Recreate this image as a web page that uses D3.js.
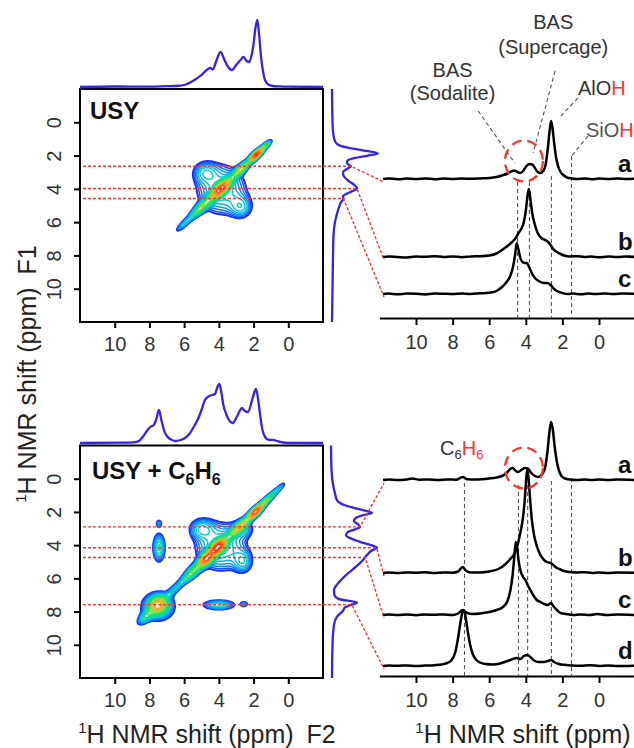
<!DOCTYPE html>
<html>
<head>
<meta charset="utf-8">
<script src="https://cdn.jsdelivr.net/npm/d3@7"></script>
<style>
  body { margin: 0; background: #fff; }
  svg { display: block; font-family: "Liberation Sans", Arial, sans-serif; }
</style>
</head>
<body>
<svg id="chart" width="634" height="748"></svg>
<script>
// ---------------- data (ppm, intensity) ----------------
const ppmTicks = [10, 8, 6, 4, 2, 0];

// F2 projections drawn above the 2D boxes
const projF2Usy = [[12,0],[10,0.5],[8,0.3],[7,0.8],[6.5,1],[6,2],[5.5,6],[5.0,12],[4.7,17],[4.5,19],[4.35,17.5],
  [4.15,26],[3.9,35],[3.7,28],[3.5,21],[3.25,17],[3.0,22],[2.75,27],[2.58,30],[2.4,26],[2.25,25],[2.1,33],[2.0,43],
  [1.9,58],[1.78,67],[1.68,52],[1.58,32],[1.47,17],[1.34,7],[1.15,2.5],[0.9,1],[0.5,0.6],[0,0.3],[-2,0]];
const projF2C6 = [[12,0],[9.5,0.3],[8.9,0.6],[8.6,2],[8.35,7],[8.15,12],[7.95,16],[7.75,18],[7.6,24],[7.45,33],
  [7.3,22],[7.15,12],[6.95,6],[6.7,3],[6.5,2],[6.2,3],[6.0,4.5],[5.7,9],[5.45,16],[5.2,24],[5.0,33],[4.8,43],[4.55,47],
  [4.4,48],[4.22,49],[4.1,55],[3.97,59],[3.85,50],[3.74,38],[3.6,30],[3.45,24],[3.2,20],[2.97,26],[2.8,32],[2.68,35],
  [2.5,32],[2.32,31],[2.1,42],[1.95,51],[1.86,54],[1.75,45],[1.63,29],[1.5,14],[1.34,6],[1.1,3],[0.88,3.2],[0.65,2],
  [0.3,0.5],[0,0.2],[-2,0]];

// F1 projections drawn right of the 2D boxes
const projF1Usy = [[-2,0],[0,0.5],[0.8,1.5],[1.2,3.5],[1.4,8],[1.55,18],[1.7,32],[1.88,46],[2.0,36],[2.15,22],
  [2.35,15],[2.5,15.5],[2.64,19],[2.8,15],[3.0,11],[3.2,11.5],[3.5,16],[3.75,22],[3.98,25],[4.2,18],[4.45,11],
  [4.6,11.5],[4.8,9],[5.1,7],[5.5,5],[6.0,3],[6.8,1.5],[8,1],[10,0.5],[12,0]];
const projF1C6 = [[-2,0],[-0.5,0.5],[0.5,2.5],[0.9,4],[1.3,6],[1.6,14],[1.85,29],[2.05,41],[2.2,32],[2.35,25],
  [2.55,23],[2.75,27],[2.9,29],[3.05,24],[3.2,17],[3.4,15],[3.6,20],[3.8,29],[4.0,40],[4.15,46],[4.35,40],[4.6,36],
  [4.9,32],[5.3,25],[5.8,15],[6.3,7],[6.7,3],[7.0,3.5],[7.25,8],[7.45,26],[7.6,20],[7.75,14],[7.95,12],[8.3,6],
  [8.8,3],[10,1.5],[12,1]];

// 1D slices, USY
const specUsyA = [[11.8,0],[11.5,0.6],[11,-0.3],[10.5,0.5],[10,0],[9.5,0.6],[9,-0.2],[8.5,0.4],[8,0],[7.5,0.5],
  [7,0.2],[6.5,0.6],[6,1],[5.6,2],[5.3,3.5],[5.0,5.5],[4.8,7.5],[4.62,8.5],[4.45,7],[4.3,6],[4.15,8],[4.0,12],
  [3.82,15],[3.65,14.5],[3.5,11],[3.35,7],[3.2,6],[3.05,8],[2.92,14],[2.8,30],[2.7,48],[2.62,58],[2.55,52],[2.45,36],
  [2.35,22],[2.22,12],[2.1,7],[1.95,4],[1.75,1.5],[1.5,0.5],[1.2,0],[0.8,0.5],[0.4,-0.2],[0,0.4],[-0.5,0],[-1,0.5],
  [-1.5,0],[-2,0.3]];
const specUsyB = [[11.8,0],[11.5,0.5],[11,0],[10.5,-0.4],[10,0.4],[9.5,0.2],[9,0.8],[8.5,0],[8,0.5],[7.5,-0.2],
  [7,0.6],[6.5,0.8],[6,1.5],[5.6,3.5],[5.3,7],[5.0,11],[4.75,15],[4.55,19],[4.4,24],[4.25,28],[4.12,34],[4.0,46],
  [3.9,62],[3.83,68],[3.75,58],[3.65,44],[3.5,32],[3.35,24],[3.15,19],[2.95,17],[2.8,15.5],[2.65,12],[2.5,8],
  [2.3,5],[2.1,3],[1.9,1.5],[1.6,0.5],[1.2,0.8],[0.8,0],[0.4,0.5],[0,-0.3],[-0.5,0.4],[-1,0],[-1.5,0.5],[-2,0]];
const specUsyC = [[11.8,0],[11.5,0.4],[11,-0.3],[10.5,0.5],[10,0.2],[9.5,-0.4],[9,0.5],[8.5,0.3],[8,0],[7.5,0.6],
  [7,0],[6.5,0.7],[6,1.2],[5.6,3],[5.3,7],[5.05,12],[4.85,18],[4.7,27],[4.58,40],[4.5,51],[4.42,46],[4.3,36],
  [4.18,32],[4.05,31],[3.95,31],[3.82,27],[3.65,20],[3.45,15],[3.25,12.5],[3.0,11],[2.8,11],[2.65,9],[2.45,5],
  [2.25,2.5],[2.0,1],[1.7,0],[1.4,0.5],[1.0,-0.3],[0.6,0.4],[0.2,0],[-0.3,0.5],[-0.8,0],[-1.3,0.6],[-2,0.2]];

// 1D slices, USY + C6H6
const specC6A = [[11.8,0],[11.5,0.5],[11,0],[10.5,0.6],[10.2,1.5],[9.8,0.3],[9.3,0.6],[8.8,0],[8.3,0.5],[7.8,0.3],
  [7.45,3],[7.2,0.8],[6.8,0.5],[6.4,0.8],[6,1.5],[5.6,2.5],[5.3,4],[5.05,7],[4.85,11],[4.72,12],[4.55,9],[4.42,8],
  [4.25,10],[4.05,12],[3.9,11.5],[3.7,7],[3.5,4],[3.3,3],[3.1,6],[2.95,12],[2.82,28],[2.72,46],[2.62,58],[2.52,50],
  [2.42,33],[2.3,18],[2.18,9],[2.05,4],[1.85,1.5],[1.6,0.5],[1.2,0],[0.8,0.6],[0.4,0],[0,0.5],[-0.5,0],[-1,0.4],[-2,0]];
const specC6B = [[11.8,0],[11.5,0.4],[11,0],[10.5,0.6],[10,0.2],[9.5,0.7],[9,0],[8.5,0.5],[8,0.3],[7.7,1.5],
  [7.45,6],[7.25,2],[7,0.5],[6.5,0.6],[6,1.5],[5.5,4],[5.1,9],[4.85,14],[4.6,20],[4.42,30],[4.28,42],[4.15,56],
  [4.05,75],[3.97,96],[3.92,103],[3.85,95],[3.77,75],[3.68,55],[3.55,38],[3.4,27],[3.2,18],[3.0,13],[2.85,11],
  [2.65,10],[2.5,8],[2.3,5],[2.1,3.5],[1.9,2],[1.6,1],[1.2,0.5],[0.8,0.8],[0.4,0],[0,0.5],[-0.5,0],[-1,0.4],[-2,0.2]];
const specC6C = [[11.8,0],[11.5,0.5],[11,0],[10.5,0.5],[10,-0.2],[9.5,0.5],[9,0.2],[8.5,0.6],[8,0],[7.7,1.5],
  [7.45,5],[7.2,2],[6.9,1],[6.5,1.5],[6,3],[5.6,5],[5.25,8],[5.0,14],[4.85,24],[4.72,40],[4.62,60],[4.55,73],
  [4.48,68],[4.4,55],[4.3,45],[4.15,38],[4.02,35],[3.9,30],[3.75,25],[3.6,20],[3.4,15],[3.2,13],[3.0,11],[2.8,10],
  [2.62,12],[2.5,9],[2.3,5],[2.1,2],[1.8,1],[1.4,0],[1,0.6],[0.5,0],[0.1,1],[-0.4,0],[-1,0.5],[-2,0]];
const specC6D = [[11.8,0],[11.5,0.5],[11,0.2],[10.5,0.6],[10,0],[9.5,0.4],[9,0.8],[8.6,1.5],[8.3,3],[8.05,6],
  [7.85,14],[7.7,28],[7.55,46],[7.42,56],[7.32,52],[7.2,38],[7.05,22],[6.9,12],[6.7,6],[6.5,3.5],[6.2,2],[5.8,1.5],
  [5.4,2.5],[5.0,5],[4.7,7],[4.5,8],[4.3,7],[4.1,10],[3.9,11],[3.7,8],[3.5,5],[3.3,4],[3.0,4],[2.8,5],[2.62,6],
  [2.45,4],[2.2,2],[1.9,1.2],[1.5,0.5],[1,0.3],[0.5,0.8],[0,0],[-0.5,0.5],[-1,0],[-2,0.4]];

// 2D cross peaks: F2, F1 (ppm), amplitude, widths along / across axis, axis angle
const peaksUsy = [
  {f2:1.85, f1:1.95, a:1.0,  s1:0.30, s2:0.11, rot:45},
  {f2:1.35, f1:1.45, a:0.30, s1:0.30, s2:0.09, rot:45},
  {f2:2.7,  f1:2.8,  a:0.45, s1:0.45, s2:0.13, rot:45},
  {f2:3.9,  f1:4.0,  a:0.85, s1:0.45, s2:0.16, rot:45},
  {f2:5.0,  f1:5.1,  a:0.32, s1:0.55, s2:0.15, rot:45},
  {f2:6.0,  f1:6.1,  a:0.13, s1:0.45, s2:0.12, rot:45},
  {f2:3.85, f1:4.05, a:0.16, s1:1.0,  s2:1.05, rot:0},
  {f2:4.8,  f1:3.0,  a:0.11, s1:0.45, s2:0.42, rot:0},
  {f2:2.7,  f1:5.1,  a:0.11, s1:0.42, s2:0.45, rot:0}
];
const peaksC6 = [
  {f2:0.6,  f1:0.65, a:0.13, s1:0.40, s2:0.09, rot:45},
  {f2:1.3,  f1:1.35, a:0.35, s1:0.45, s2:0.11, rot:45},
  {f2:1.9,  f1:2.0,  a:0.90, s1:0.35, s2:0.13, rot:45},
  {f2:2.8,  f1:2.9,  a:0.50, s1:0.50, s2:0.14, rot:45},
  {f2:4.05, f1:4.1,  a:1.0,  s1:0.35, s2:0.17, rot:45},
  {f2:4.7,  f1:4.8,  a:0.85, s1:0.35, s2:0.17, rot:45},
  {f2:5.5,  f1:5.6,  a:0.30, s1:0.50, s2:0.18, rot:45},
  {f2:6.5,  f1:6.6,  a:0.13, s1:0.60, s2:0.15, rot:45},
  {f2:7.5,  f1:7.6,  a:0.50, s1:0.32, s2:0.28, rot:45},
  {f2:7.5,  f1:7.7,  a:0.20, s1:0.62, s2:0.55, rot:0},
  {f2:8.2,  f1:8.3,  a:0.18, s1:0.40, s2:0.18, rot:45},
  {f2:3.9,  f1:4.1,  a:0.17, s1:1.0,  s2:1.0,  rot:0},
  {f2:5.0,  f1:3.0,  a:0.13, s1:0.45, s2:0.40, rot:0},
  {f2:2.6,  f1:5.0,  a:0.12, s1:0.35, s2:0.45, rot:0},
  {f2:2.6,  f1:3.0,  a:0.10, s1:0.40, s2:0.35, rot:0},
  {f2:7.45, f1:4.15, a:0.20, s1:0.22, s2:0.55, rot:0},
  {f2:7.45, f1:2.7,  a:0.10, s1:0.12, s2:0.17, rot:0},
  {f2:4.0,  f1:7.6,  a:0.18, s1:0.60, s2:0.19, rot:0},
  {f2:2.55, f1:7.55, a:0.10, s1:0.16, s2:0.11, rot:0}
];

// slice positions (F1, ppm) and marker lines (ppm)
const slicesUsy = [2.64, 3.98, 4.58];
const slicesC6 = [2.9, 4.16, 4.74, 7.58];
const marksUsy = [4.45, 3.8, 2.6, 1.5];
const marksC6 = [7.35, 4.4, 3.9, 2.6, 1.5];

// ---------------- layout ----------------
const svg = d3.select("#chart");
const x2d = d3.scaleLinear().domain([12, -2]).range([80, 323]);
const xSpec = d3.scaleLinear().domain([12, -2]).range([379.4, 635.6]);
const RED = "#ff3030", BLUE = "#3322f0", GRAY = "#555";

const panels = [
  { title: "USY", y2d: d3.scaleLinear().domain([-2, 12]).range([89, 322]), projTop: 87, projRight: 332,
    projF2: projF2Usy, projF1: projF1Usy, peaks: peaksUsy, slices: slicesUsy,
    spectra: [specUsyA, specUsyB, specUsyC], bases: [179, 257, 294], labels: ["a", "b", "c"],
    axisY: 318, marks: marksUsy, markTops: [182, 182, 176, 156] },
  { title: "USY + C6H6", y2d: d3.scaleLinear().domain([-2, 12]).range([445.5, 678]), projTop: 443, projRight: 331,
    projF2: projF2C6, projF1: projF1C6, peaks: peaksC6, slices: slicesC6,
    spectra: [specC6A, specC6B, specC6C, specC6D], bases: [480, 573, 615, 666], labels: ["a", "b", "c", "d"],
    axisY: 676, marks: marksC6, markTops: [483, 485, 485, 481, 478] }
];

function interp(arr, ppm) {
  for (let i = 0; i < arr.length - 1; i++) {
    const [p0, v0] = arr[i], [p1, v1] = arr[i + 1];
    if ((ppm - p0) * (ppm - p1) <= 0) return v0 + (v1 - v0) * (ppm - p0) / (p1 - p0);
  }
  return 0;
}

// contour grid
const step = 0.04, g0 = -2, n = Math.round(14 / step) + 1;
function field(peaks) {
  const v = new Float64Array(n * n);
  peaks.forEach(p => {
    const r = p.rot * Math.PI / 180, c = Math.cos(r), s = Math.sin(r);
    for (let j = 0; j < n; j++) {
      const dy = g0 + j * step - p.f1;
      for (let i = 0; i < n; i++) {
        const dx = g0 + i * step - p.f2;
        const u = dx * c + dy * s, w = -dx * s + dy * c;
        const e = 0.5 * (u * u / (p.s1 * p.s1) + w * w / (p.s2 * p.s2));
        if (e < 14) v[j * n + i] += p.a * Math.exp(-e);
      }
    }
  });
  return v;
}
const levels = d3.range(18).map(i => 0.06 * Math.pow(1 / 0.06, i / 17));
const levelColor = d3.scaleLinear()
  .domain([0, 0.16, 0.33, 0.5, 0.66, 0.83, 1])
  .range(["#1a2cff", "#0a8cff", "#00d8d0", "#10e060", "#8ce03a", "#ff9a1a", "#ff2a10"]);

const axisFont = g => g.selectAll("text").attr("font-size", 20).attr("fill", "#333")
  .attr("font-family", "'Liberation Sans', Arial, sans-serif");

panels.forEach((P, pi) => {
  const y2d = P.y2d;
  const g = svg.append("g");

  // contours
  const clipId = "clip" + pi;
  svg.append("clipPath").attr("id", clipId).append("rect")
    .attr("x", 80).attr("y", y2d(-2)).attr("width", 243).attr("height", y2d(12) - y2d(-2));
  const proj = d3.geoTransform({
    point(x, y) { this.stream.point(x2d(g0 + (x - 0.5) * step), y2d(g0 + (y - 0.5) * step)); }
  });
  const path = d3.geoPath(proj);
  const contours = d3.contours().size([n, n]).thresholds(levels)(field(P.peaks));
  g.append("g").attr("clip-path", `url(#${clipId})`)
    .selectAll("path").data(contours).join("path")
    .attr("d", path).attr("fill", "none")
    .attr("stroke", (d, i) => levelColor(i / (levels.length - 1)))
    .attr("stroke-width", (d, i) => i === 0 ? 2 : 1.5).attr("stroke-linejoin", "round");

  // box + axes
  g.append("rect").attr("x", 80).attr("y", y2d(-2)).attr("width", 243).attr("height", y2d(12) - y2d(-2))
    .attr("fill", "none").attr("stroke", "#000").attr("stroke-width", 2);
  const ax = g.append("g").attr("transform", `translate(0,${y2d(12)})`)
    .call(d3.axisBottom(x2d).tickValues(ppmTicks).tickSize(6).tickSizeOuter(0));
  ax.select(".domain").remove();
  ax.selectAll("line").attr("stroke-width", 2);
  ax.selectAll("text").attr("y", 15);
  axisFont(ax);
  const ay = g.append("g").attr("transform", "translate(80,0)")
    .call(d3.axisLeft(y2d).tickValues(ppmTicks).tickSize(6).tickSizeOuter(0));
  ay.select(".domain").remove();
  ay.selectAll("line").attr("stroke-width", 2);
  ay.selectAll("text").attr("x", null).attr("dy", null).attr("text-anchor", "middle")
    .attr("transform", "translate(-19,0) rotate(-90)");
  axisFont(ay);

  // title
  const t = g.append("text").attr("x", pi === 0 ? 90 : 92).attr("y", pi === 0 ? 119 : 479)
    .attr("font-size", 24).attr("font-weight", "bold").attr("fill", "#111");
  if (pi === 0) t.text("USY");
  else {
    t.append("tspan").text("USY + C");
    t.append("tspan").text("6").attr("font-size", 16).attr("dy", 6);
    t.append("tspan").text("H").attr("dy", -6);
    t.append("tspan").text("6").attr("font-size", 16).attr("dy", 6);
  }

  // projections
  const iTop = d3.scaleLinear().domain([0, 1]).range([P.projTop, P.projTop - 1]);
  g.append("path").datum(P.projF2)
    .attr("d", d3.line().x(d => x2d(d[0])).y(d => iTop(d[1])).curve(d3.curveMonotoneX))
    .attr("fill", "none").attr("stroke", BLUE).attr("stroke-width", 2.3);
  const iRight = d3.scaleLinear().domain([0, 1]).range([P.projRight, P.projRight + 1]);
  g.append("path").datum(P.projF1)
    .attr("d", d3.line().x(d => iRight(d[1])).y(d => y2d(d[0])).curve(d3.curveMonotoneY))
    .attr("fill", "none").attr("stroke", BLUE).attr("stroke-width", 2.3);

  // slice connectors
  P.slices.forEach((s, k) => {
    const yy = y2d(s), xe = iRight(interp(P.projF1, s));
    g.append("path")
      .attr("d", d3.line()([[83, yy], [xe, yy], [384, P.bases[k] + 3]]))
      .attr("fill", "none").attr("stroke", RED).attr("stroke-width", 1.4).attr("stroke-dasharray", "3,2");
  });

  // right axis
  const rx = g.append("g").attr("transform", `translate(0,${P.axisY})`)
    .call(d3.axisBottom(xSpec).tickValues(ppmTicks).tickSize(7).tickSizeOuter(0));
  rx.select(".domain").attr("stroke-width", 2);
  rx.selectAll("line").attr("stroke-width", 2);
  rx.selectAll("text").attr("y", 17);
  axisFont(rx);

  // marker lines
  g.selectAll(".mark").data(P.marks).join("line")
    .attr("x1", d => xSpec(d)).attr("x2", d => xSpec(d))
    .attr("y1", (d, i) => P.markTops[i]).attr("y2", P.axisY)
    .attr("stroke", GRAY).attr("stroke-width", 1.1).attr("stroke-dasharray", "4,3");

  // spectra
  P.spectra.forEach((sp, k) => {
    const iy = d3.scaleLinear().domain([0, 1]).range([P.bases[k], P.bases[k] - 1]);
    g.append("path").datum(sp)
      .attr("d", d3.line().x(d => xSpec(d[0])).y(d => iy(d[1])).curve(d3.curveMonotoneX))
      .attr("fill", "none").attr("stroke", "#000").attr("stroke-width", 2.5);
    g.append("text").attr("x", 618).attr("y", P.bases[k] - 7)
      .attr("font-size", 24).attr("font-weight", "bold").attr("fill", "#111").text(P.labels[k]);
  });

  // red dashed circle around BAS signals
  g.append("ellipse").attr("cx", xSpec(4.1)).attr("cy", pi === 0 ? 161 : 468)
    .attr("rx", 19).attr("ry", 20.5)
    .attr("fill", "none").attr("stroke", RED).attr("stroke-width", 2.3).attr("stroke-dasharray", "10,6");
});

// ---------------- annotations ----------------
const ann = svg.append("g").attr("font-size", 20).attr("fill", "#333");
const leader = (p0, y0, p1, y1) => ann.append("line")
  .attr("x1", xSpec(p0)).attr("y1", y0).attr("x2", xSpec(p1)).attr("y2", y1)
  .attr("stroke", GRAY).attr("stroke-width", 1.1).attr("stroke-dasharray", "4,3");
leader(6.6, 111, 4.6, 163);
leader(2.4, 71, 3.6, 153);
leader(1.15, 98, 2.13, 117);
leader(0.6, 136, 1.5, 156);

ann.append("text").attr("x", xSpec(8.0)).attr("y", 77).attr("text-anchor", "middle").text("BAS");
ann.append("text").attr("x", xSpec(8.0)).attr("y", 100).attr("text-anchor", "middle").text("(Sodalite)");
ann.append("text").attr("x", xSpec(2.5)).attr("y", 29).attr("text-anchor", "middle").text("BAS");
ann.append("text").attr("x", xSpec(2.5)).attr("y", 54).attr("text-anchor", "middle").text("(Supercage)");
const alo = ann.append("text").attr("x", xSpec(1.15)).attr("y", 95);
alo.append("tspan").text("AlO");
alo.append("tspan").text("H").attr("fill", RED);
const sio = ann.append("text").attr("x", 586).attr("y", 137).attr("fill", "#555");
sio.append("tspan").text("SiO");
sio.append("tspan").text("H").attr("fill", RED);
const c6 = ann.append("text").attr("x", 440).attr("y", 455);
c6.append("tspan").text("C");
c6.append("tspan").text("6").attr("font-size", 13).attr("dy", 4);
c6.append("tspan").text("H").attr("fill", RED).attr("dy", -4);
c6.append("tspan").text("6").attr("font-size", 13).attr("dy", 4).attr("fill", RED);

// ---------------- axis titles ----------------
function axisTitle(sel, tail) {
  sel.attr("font-size", 25).attr("fill", "#222");
  sel.append("tspan").text("1").attr("font-size", 15).attr("dy", -10);
  sel.append("tspan").text("H NMR shift (ppm)").attr("dy", 10);
  if (tail) sel.append("tspan").text(tail).attr("dx", 13);
}
axisTitle(svg.append("text").attr("x", 207).attr("y", 743).attr("text-anchor", "middle"), "F2");
axisTitle(svg.append("text").attr("x", 523).attr("y", 743).attr("text-anchor", "middle"), "");
axisTitle(svg.append("text").attr("transform", "translate(36,374) rotate(-90)").attr("text-anchor", "middle"), "F1");
</script>
</body>
</html>
